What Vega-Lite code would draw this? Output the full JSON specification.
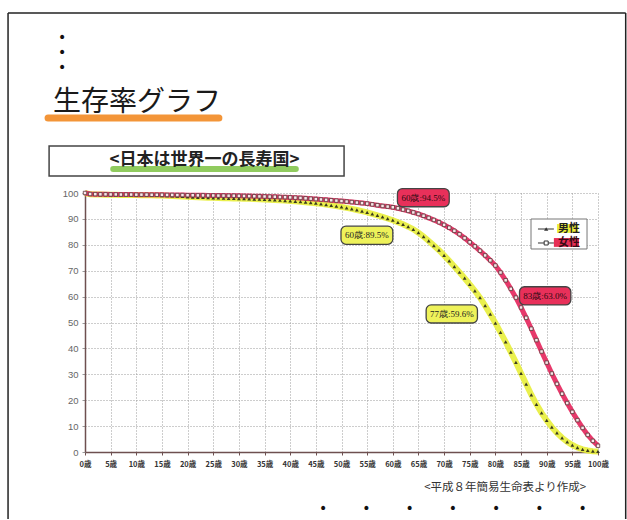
{
"$schema": "https://vega.github.io/schema/vega-lite/v6.json",
"width": 513, "height": 259,
"padding": {"left": 7, "top": 12, "right": 0, "bottom": 0},
"autosize": {"type": "pad"},
"background": "white",
"config": {"view": {"stroke": null}, "font": "Noto Sans CJK JP",
 "axisX": {"labelExpr": "datum.value + '歳'", "grid": true, "gridDash": [1,2], "gridColor": "#9a9a9a", "gridWidth": 1,
   "domainColor": "#6e5050", "domainWidth": 1.5, "tickColor": "#6e5050", "tickSize": 3,
   "labelFont": "Noto Sans CJK JP", "labelFontSize": 7.5, "labelFontWeight": "bold", "labelColor": "#333", "labelPadding": 5, "labelFlush": false, "labelOverlap": false},
 "axisY": {"grid": true, "gridDash": [1,2], "gridColor": "#9a9a9a", "gridWidth": 1,
   "domainColor": "#6e5050", "domainWidth": 1.5, "tickColor": "#9a9a9a", "tickSize": 3,
   "labelFont": "Liberation Sans", "labelFontSize": 9.5, "labelColor": "#666", "labelPadding": 4, "labelOverlap": false}},
"datasets": {"survival": [
{"age":0,"男性":100,"女性":100},{"age":1,"男性":99.5,"女性":99.6},{"age":2,"男性":99.45,"女性":99.55},{"age":3,"男性":99.4,"女性":99.5},{"age":4,"男性":99.35,"女性":99.5},
{"age":5,"男性":99.3,"女性":99.45},{"age":6,"男性":99.3,"女性":99.45},{"age":7,"男性":99.25,"女性":99.4},{"age":8,"男性":99.25,"女性":99.4},{"age":9,"男性":99.2,"女性":99.4},
{"age":10,"男性":99.2,"女性":99.35},{"age":11,"男性":99.15,"女性":99.35},{"age":12,"男性":99.15,"女性":99.35},{"age":13,"男性":99.1,"女性":99.3},{"age":14,"男性":99.05,"女性":99.3},
{"age":15,"男性":99.0,"女性":99.3},{"age":16,"男性":98.95,"女性":99.25},{"age":17,"男性":98.85,"女性":99.25},{"age":18,"男性":98.75,"女性":99.2},{"age":19,"男性":98.65,"女性":99.2},
{"age":20,"男性":98.55,"女性":99.15},{"age":21,"男性":98.45,"女性":99.15},{"age":22,"男性":98.35,"女性":99.1},{"age":23,"男性":98.3,"女性":99.1},{"age":24,"男性":98.2,"女性":99.05},
{"age":25,"男性":98.15,"女性":99.05},{"age":26,"男性":98.1,"女性":99.0},{"age":27,"男性":98.0,"女性":99.0},{"age":28,"男性":97.95,"女性":98.95},{"age":29,"男性":97.9,"女性":98.95},
{"age":30,"男性":97.85,"女性":98.9},{"age":31,"男性":97.8,"女性":98.85},{"age":32,"男性":97.75,"女性":98.8},{"age":33,"男性":97.65,"女性":98.75},{"age":34,"男性":97.6,"女性":98.7},
{"age":35,"男性":97.5,"女性":98.65},{"age":36,"男性":97.4,"女性":98.6},{"age":37,"男性":97.3,"女性":98.55},{"age":38,"男性":97.2,"女性":98.45},{"age":39,"男性":97.1,"女性":98.4},
{"age":40,"男性":96.95,"女性":98.3},{"age":41,"男性":96.8,"女性":98.2},{"age":42,"男性":96.65,"女性":98.1},{"age":43,"男性":96.45,"女性":97.95},{"age":44,"男性":96.25,"女性":97.8},
{"age":45,"男性":96.05,"女性":97.65},{"age":46,"男性":95.8,"女性":97.5},{"age":47,"男性":95.55,"女性":97.35},{"age":48,"男性":95.25,"女性":97.2},{"age":49,"男性":94.95,"女性":97.05},
{"age":50,"男性":94.6,"女性":96.9},{"age":51,"男性":94.25,"女性":96.7},{"age":52,"男性":93.85,"女性":96.5},{"age":53,"男性":93.45,"女性":96.3},{"age":54,"男性":93.0,"女性":96.1},
{"age":55,"男性":92.5,"女性":95.9},{"age":56,"男性":91.95,"女性":95.6},{"age":57,"男性":91.4,"女性":95.3},{"age":58,"男性":90.8,"女性":95.0},{"age":59,"男性":90.15,"女性":94.75},
{"age":60,"男性":89.5,"女性":94.5},{"age":61,"男性":88.7,"女性":94.1},{"age":62,"男性":87.9,"女性":93.6},{"age":63,"男性":87.0,"女性":93.1},{"age":64,"男性":86.0,"女性":92.5},
{"age":65,"男性":84.7,"女性":91.9},{"age":66,"男性":83.2,"女性":91.2},{"age":67,"男性":81.5,"女性":90.4},{"age":68,"男性":79.7,"女性":89.6},{"age":69,"男性":77.9,"女性":88.7},
{"age":70,"男性":75.9,"女性":87.7},{"age":71,"男性":73.8,"女性":86.6},{"age":72,"男性":71.6,"女性":85.4},{"age":73,"男性":69.4,"女性":84.1},{"age":74,"男性":67.1,"女性":82.6},
{"age":75,"男性":64.7,"女性":81.0},{"age":76,"男性":62.2,"女性":79.4},{"age":77,"男性":59.6,"女性":77.7},{"age":78,"男性":56.5,"女性":75.9},{"age":79,"男性":53.2,"女性":74.0},
{"age":80,"男性":49.8,"女性":72.0},{"age":81,"男性":46.2,"女性":69.3},{"age":82,"男性":42.5,"女性":66.3},{"age":83,"男性":38.6,"女性":63.0},{"age":84,"男性":34.6,"女性":59.6},
{"age":85,"男性":30.4,"女性":55.8},{"age":86,"男性":26.2,"女性":51.8},{"age":87,"男性":22.1,"女性":47.6},{"age":88,"男性":18.4,"女性":43.2},{"age":89,"男性":15.1,"女性":38.8},
{"age":90,"男性":12.2,"女性":34.5},{"age":91,"男性":9.6,"女性":30.3},{"age":92,"男性":7.4,"女性":26.3},{"age":93,"男性":5.5,"女性":22.5},{"age":94,"男性":3.9,"女性":18.9},
{"age":95,"男性":2.7,"女性":15.5},{"age":96,"男性":1.7,"女性":12.3},{"age":97,"男性":1.0,"女性":9.3},{"age":98,"男性":0.6,"女性":6.6},{"age":99,"男性":0.3,"女性":4.3},
{"age":100,"男性":0.2,"女性":2.4}
]},
"layer": [
{"data": {"name": "survival"},
 "transform": [{"fold": ["男性", "女性"], "as": ["sex", "rate"]}, {"filter": "datum.sex === '男性'"}],
 "mark": {"type": "line", "stroke": "#e8ee3a", "strokeWidth": 6, "opacity": 0.9},
 "encoding": {
  "x": {"field": "age", "type": "quantitative", "title": null, "scale": {"domain": [0,100], "nice": false, "zero": false}, "axis": {"values": [0,5,10,15,20,25,30,35,40,45,50,55,60,65,70,75,80,85,90,95,100]}},
  "y": {"field": "rate", "type": "quantitative", "title": null, "scale": {"domain": [0,100], "nice": false, "zero": false}, "axis": {"values": [0,10,20,30,40,50,60,70,80,90,100]}}}},
{"data": {"values": [{}]},
 "mark": {"type": "rule", "stroke": "#222", "strokeWidth": 1.5},
 "encoding": {"x": {"datum": -15.0, "type": "quantitative", "title": null, "axis": {"values": [0,5,10,15,20,25,30,35,40,45,50,55,60,65,70,75,80,85,90,95,100]}},
  "x2": {"datum": 105.4},
  "y": {"datum": 169.5, "type": "quantitative", "title": null, "axis": {"values": [0,10,20,30,40,50,60,70,80,90,100]}}}},
{"data": {"values": [{}]},
 "mark": {"type": "rule", "stroke": "#222", "strokeWidth": 1.5},
 "encoding": {"x": {"datum": -15.0, "type": "quantitative", "title": null, "axis": {"values": [0,5,10,15,20,25,30,35,40,45,50,55,60,65,70,75,80,85,90,95,100]}},
  "y": {"datum": 169.5, "type": "quantitative", "title": null, "axis": {"values": [0,10,20,30,40,50,60,70,80,90,100]}},
  "y2": {"datum": -25.9}}},
{"data": {"values": [{}]},
 "mark": {"type": "rule", "stroke": "#222", "strokeWidth": 1.5},
 "encoding": {"x": {"datum": 105.4, "type": "quantitative", "title": null, "axis": {"values": [0,5,10,15,20,25,30,35,40,45,50,55,60,65,70,75,80,85,90,95,100]}},
  "y": {"datum": 169.5, "type": "quantitative", "title": null, "axis": {"values": [0,10,20,30,40,50,60,70,80,90,100]}},
  "y2": {"datum": -25.9}}},
{"data": {"values": [{}]},
 "mark": {"type": "text", "font": "DejaVu Sans", "fontSize": 14, "lineBreak": "\n", "lineHeight": 15, "align": "center", "baseline": "middle", "color": "#111"},
 "encoding": {"x": {"datum": -4.48, "type": "quantitative", "title": null, "axis": {"values": [0,5,10,15,20,25,30,35,40,45,50,55,60,65,70,75,80,85,90,95,100]}},
  "y": {"datum": 159.85, "type": "quantitative", "title": null, "axis": {"values": [0,10,20,30,40,50,60,70,80,90,100]}},
  "text": {"value": "•\n•\n•"}}},
{"data": {"values": [{}]},
 "mark": {"type": "rule", "stroke": "#f28a22", "strokeWidth": 7, "strokeCap": "round", "opacity": 0.9},
 "encoding": {"x": {"datum": -7.2, "type": "quantitative", "title": null, "axis": {"values": [0,5,10,15,20,25,30,35,40,45,50,55,60,65,70,75,80,85,90,95,100]}},
  "x2": {"datum": 26.1},
  "y": {"datum": 129.0, "type": "quantitative", "title": null, "axis": {"values": [0,10,20,30,40,50,60,70,80,90,100]}}}},
{"data": {"values": [{}]},
 "mark": {"type": "text", "font": "Noto Sans CJK JP", "fontSize": 28, "align": "left", "baseline": "alphabetic", "color": "#1a1a1a"},
 "encoding": {"x": {"datum": -6.24, "type": "quantitative", "title": null, "axis": {"values": [0,5,10,15,20,25,30,35,40,45,50,55,60,65,70,75,80,85,90,95,100]}},
  "y": {"datum": 131.7, "type": "quantitative", "title": null, "axis": {"values": [0,10,20,30,40,50,60,70,80,90,100]}},
  "text": {"value": "生存率グラフ"}}},
{"data": {"values": [{}]},
 "mark": {"type": "rect", "fill": "white", "stroke": "#444", "strokeWidth": 1.5},
 "encoding": {"x": {"datum": -7.0, "type": "quantitative", "title": null, "axis": {"values": [0,5,10,15,20,25,30,35,40,45,50,55,60,65,70,75,80,85,90,95,100]}},
  "x2": {"datum": 50.5},
  "y": {"datum": 118.1, "type": "quantitative", "title": null, "axis": {"values": [0,10,20,30,40,50,60,70,80,90,100]}},
  "y2": {"datum": 106.6}}},
{"data": {"values": [{}]},
 "mark": {"type": "rule", "stroke": "#7cc242", "strokeWidth": 6, "strokeCap": "round", "opacity": 0.85},
 "encoding": {"x": {"datum": 5.5, "type": "quantitative", "title": null, "axis": {"values": [0,5,10,15,20,25,30,35,40,45,50,55,60,65,70,75,80,85,90,95,100]}},
  "x2": {"datum": 41.1},
  "y": {"datum": 109.3, "type": "quantitative", "title": null, "axis": {"values": [0,10,20,30,40,50,60,70,80,90,100]}}}},
{"data": {"values": [{}]},
 "mark": {"type": "text", "font": "Noto Sans CJK JP", "fontSize": 17, "fontWeight": "bold", "align": "center", "baseline": "middle", "color": "#222"},
 "encoding": {"x": {"datum": 23.3, "type": "quantitative", "title": null, "axis": {"values": [0,5,10,15,20,25,30,35,40,45,50,55,60,65,70,75,80,85,90,95,100]}},
  "y": {"datum": 112.7, "type": "quantitative", "title": null, "axis": {"values": [0,10,20,30,40,50,60,70,80,90,100]}},
  "text": {"value": "<日本は世界一の長寿国>"}}},
{"data": {"name": "survival"},
 "transform": [{"fold": ["男性", "女性"], "as": ["sex", "rate"]}, {"filter": "datum.sex === '女性'"}],
 "mark": {"type": "line", "stroke": "#e62e63", "strokeWidth": 5, "opacity": 0.95},
 "encoding": {
  "x": {"field": "age", "type": "quantitative", "title": null, "axis": {"values": [0,5,10,15,20,25,30,35,40,45,50,55,60,65,70,75,80,85,90,95,100]}},
  "y": {"field": "rate", "type": "quantitative", "title": null, "axis": {"values": [0,10,20,30,40,50,60,70,80,90,100]}}}},
{"data": {"name": "survival"},
 "transform": [{"fold": ["男性", "女性"], "as": ["sex", "rate"]}, {"filter": "datum.sex === '男性'"}],
 "mark": {"type": "point", "shape": "triangle-up", "filled": true, "fill": "#3a3a1e", "size": 14, "strokeWidth": 0, "opacity": 1},
 "encoding": {
  "x": {"field": "age", "type": "quantitative", "title": null, "axis": {"values": [0,5,10,15,20,25,30,35,40,45,50,55,60,65,70,75,80,85,90,95,100]}},
  "y": {"field": "rate", "type": "quantitative", "title": null, "axis": {"values": [0,10,20,30,40,50,60,70,80,90,100]}}}},
{"data": {"name": "survival"},
 "transform": [{"fold": ["男性", "女性"], "as": ["sex", "rate"]}, {"filter": "datum.sex === '女性'"}],
 "mark": {"type": "point", "shape": "square", "filled": true, "fill": "#fbe4ea", "stroke": "#5a3a3a", "strokeWidth": 0.8, "size": 12, "opacity": 1},
 "encoding": {
  "x": {"field": "age", "type": "quantitative", "title": null, "axis": {"values": [0,5,10,15,20,25,30,35,40,45,50,55,60,65,70,75,80,85,90,95,100]}},
  "y": {"field": "rate", "type": "quantitative", "title": null, "axis": {"values": [0,10,20,30,40,50,60,70,80,90,100]}}}},
{"data": {"values": [{"label": "60歳:94.5%"}]},
 "layer": [
  {"mark": {"type": "rect", "fill": "#e8305a", "stroke": "#444", "strokeWidth": 1.3, "cornerRadius": 5},
   "encoding": {"x": {"datum": 60.9, "type": "quantitative", "title": null, "axis": {"values": [0,5,10,15,20,25,30,35,40,45,50,55,60,65,70,75,80,85,90,95,100]}},
    "x2": {"datum": 71.0},
    "y": {"datum": 101.7, "type": "quantitative", "title": null, "axis": {"values": [0,10,20,30,40,50,60,70,80,90,100]}},
    "y2": {"datum": 94.7}}},
  {"mark": {"type": "text", "font": "Liberation Serif", "fontSize": 9, "align": "center", "baseline": "middle", "color": "#2a0a10"},
   "encoding": {"x": {"datum": 65.95, "type": "quantitative", "title": null, "axis": {"values": [0,5,10,15,20,25,30,35,40,45,50,55,60,65,70,75,80,85,90,95,100]}},
    "y": {"datum": 98.2, "type": "quantitative", "title": null, "axis": {"values": [0,10,20,30,40,50,60,70,80,90,100]}},
    "text": {"field": "label"}}}]},
{"data": {"values": [{"label": "60歳:89.5%"}]},
 "layer": [
  {"mark": {"type": "rect", "fill": "#eef25a", "stroke": "#444", "strokeWidth": 1.3, "cornerRadius": 5},
   "encoding": {"x": {"datum": 49.9, "type": "quantitative", "title": null, "axis": {"values": [0,5,10,15,20,25,30,35,40,45,50,55,60,65,70,75,80,85,90,95,100]}},
    "x2": {"datum": 60.0},
    "y": {"datum": 87.2, "type": "quantitative", "title": null, "axis": {"values": [0,10,20,30,40,50,60,70,80,90,100]}},
    "y2": {"datum": 80.2}}},
  {"mark": {"type": "text", "font": "Liberation Serif", "fontSize": 9, "align": "center", "baseline": "middle", "color": "#222"},
   "encoding": {"x": {"datum": 54.95, "type": "quantitative", "title": null, "axis": {"values": [0,5,10,15,20,25,30,35,40,45,50,55,60,65,70,75,80,85,90,95,100]}},
    "y": {"datum": 83.7, "type": "quantitative", "title": null, "axis": {"values": [0,10,20,30,40,50,60,70,80,90,100]}},
    "text": {"field": "label"}}}]},
{"data": {"values": [{"label": "83歳:63.0%"}]},
 "layer": [
  {"mark": {"type": "rect", "fill": "#e8305a", "stroke": "#444", "strokeWidth": 1.3, "cornerRadius": 5},
   "encoding": {"x": {"datum": 84.7, "type": "quantitative", "title": null, "axis": {"values": [0,5,10,15,20,25,30,35,40,45,50,55,60,65,70,75,80,85,90,95,100]}},
    "x2": {"datum": 94.7},
    "y": {"datum": 63.8, "type": "quantitative", "title": null, "axis": {"values": [0,10,20,30,40,50,60,70,80,90,100]}},
    "y2": {"datum": 56.8}}},
  {"mark": {"type": "text", "font": "Liberation Serif", "fontSize": 9, "align": "center", "baseline": "middle", "color": "#2a0a10"},
   "encoding": {"x": {"datum": 89.7, "type": "quantitative", "title": null, "axis": {"values": [0,5,10,15,20,25,30,35,40,45,50,55,60,65,70,75,80,85,90,95,100]}},
    "y": {"datum": 60.3, "type": "quantitative", "title": null, "axis": {"values": [0,10,20,30,40,50,60,70,80,90,100]}},
    "text": {"field": "label"}}}]},
{"data": {"values": [{"label": "77歳:59.6%"}]},
 "layer": [
  {"mark": {"type": "rect", "fill": "#eef25a", "stroke": "#444", "strokeWidth": 1.3, "cornerRadius": 5},
   "encoding": {"x": {"datum": 66.5, "type": "quantitative", "title": null, "axis": {"values": [0,5,10,15,20,25,30,35,40,45,50,55,60,65,70,75,80,85,90,95,100]}},
    "x2": {"datum": 76.5},
    "y": {"datum": 56.8, "type": "quantitative", "title": null, "axis": {"values": [0,10,20,30,40,50,60,70,80,90,100]}},
    "y2": {"datum": 49.8}}},
  {"mark": {"type": "text", "font": "Liberation Serif", "fontSize": 9, "align": "center", "baseline": "middle", "color": "#222"},
   "encoding": {"x": {"datum": 71.5, "type": "quantitative", "title": null, "axis": {"values": [0,5,10,15,20,25,30,35,40,45,50,55,60,65,70,75,80,85,90,95,100]}},
    "y": {"datum": 53.3, "type": "quantitative", "title": null, "axis": {"values": [0,10,20,30,40,50,60,70,80,90,100]}},
    "text": {"field": "label"}}}]},
{"data": {"values": [{}]},
 "mark": {"type": "rect", "fill": "white", "stroke": "#777", "strokeWidth": 1},
 "encoding": {"x": {"datum": 86.94, "type": "quantitative", "title": null, "axis": {"values": [0,5,10,15,20,25,30,35,40,45,50,55,60,65,70,75,80,85,90,95,100]}},
  "x2": {"datum": 97.86},
  "y": {"datum": 89.96, "type": "quantitative", "title": null, "axis": {"values": [0,10,20,30,40,50,60,70,80,90,100]}},
  "y2": {"datum": 78.38}}},
{"data": {"values": [{}]},
 "mark": {"type": "rect", "fill": "#eef03a"},
 "encoding": {"x": {"datum": 92.0, "type": "quantitative", "title": null, "axis": {"values": [0,5,10,15,20,25,30,35,40,45,50,55,60,65,70,75,80,85,90,95,100]}},
  "x2": {"datum": 96.1},
  "y": {"datum": 88.0, "type": "quantitative", "title": null, "axis": {"values": [0,10,20,30,40,50,60,70,80,90,100]}},
  "y2": {"datum": 84.6}}},
{"data": {"values": [{}]},
 "mark": {"type": "rect", "fill": "#e62e55"},
 "encoding": {"x": {"datum": 91.4, "type": "quantitative", "title": null, "axis": {"values": [0,5,10,15,20,25,30,35,40,45,50,55,60,65,70,75,80,85,90,95,100]}},
  "x2": {"datum": 96.3},
  "y": {"datum": 82.6, "type": "quantitative", "title": null, "axis": {"values": [0,10,20,30,40,50,60,70,80,90,100]}},
  "y2": {"datum": 79.2}}},
{"data": {"values": [{}]},
 "mark": {"type": "rule", "stroke": "#333", "strokeWidth": 1},
 "encoding": {"x": {"datum": 88.3, "type": "quantitative", "title": null, "axis": {"values": [0,5,10,15,20,25,30,35,40,45,50,55,60,65,70,75,80,85,90,95,100]}},
  "x2": {"datum": 91.4},
  "y": {"datum": 86.1, "type": "quantitative", "title": null, "axis": {"values": [0,10,20,30,40,50,60,70,80,90,100]}}}},
{"data": {"values": [{}]},
 "mark": {"type": "rule", "stroke": "#333", "strokeWidth": 1},
 "encoding": {"x": {"datum": 88.3, "type": "quantitative", "title": null, "axis": {"values": [0,5,10,15,20,25,30,35,40,45,50,55,60,65,70,75,80,85,90,95,100]}},
  "x2": {"datum": 91.4},
  "y": {"datum": 80.7, "type": "quantitative", "title": null, "axis": {"values": [0,10,20,30,40,50,60,70,80,90,100]}}}},
{"data": {"values": [{}]},
 "mark": {"type": "point", "shape": "triangle-up", "filled": true, "fill": "#333", "size": 18, "strokeWidth": 0, "opacity": 1},
 "encoding": {"x": {"datum": 89.9, "type": "quantitative", "title": null, "axis": {"values": [0,5,10,15,20,25,30,35,40,45,50,55,60,65,70,75,80,85,90,95,100]}},
  "y": {"datum": 86.1, "type": "quantitative", "title": null, "axis": {"values": [0,10,20,30,40,50,60,70,80,90,100]}}}},
{"data": {"values": [{}]},
 "mark": {"type": "point", "shape": "square", "filled": true, "fill": "white", "stroke": "#333", "strokeWidth": 1, "size": 16, "opacity": 1},
 "encoding": {"x": {"datum": 89.9, "type": "quantitative", "title": null, "axis": {"values": [0,5,10,15,20,25,30,35,40,45,50,55,60,65,70,75,80,85,90,95,100]}},
  "y": {"datum": 80.7, "type": "quantitative", "title": null, "axis": {"values": [0,10,20,30,40,50,60,70,80,90,100]}}}},
{"data": {"values": [{"sex": "男性"}]},
 "mark": {"type": "text", "font": "Noto Sans CJK JP", "fontSize": 11, "fontWeight": "bold", "align": "left", "baseline": "middle", "color": "#222"},
 "encoding": {"x": {"datum": 92.2, "type": "quantitative", "title": null, "axis": {"values": [0,5,10,15,20,25,30,35,40,45,50,55,60,65,70,75,80,85,90,95,100]}},
  "y": {"datum": 86.1, "type": "quantitative", "title": null, "axis": {"values": [0,10,20,30,40,50,60,70,80,90,100]}},
  "text": {"field": "sex"}}},
{"data": {"values": [{"sex": "女性"}]},
 "mark": {"type": "text", "font": "Noto Sans CJK JP", "fontSize": 11, "fontWeight": "bold", "align": "left", "baseline": "middle", "color": "#3a0a14"},
 "encoding": {"x": {"datum": 92.2, "type": "quantitative", "title": null, "axis": {"values": [0,5,10,15,20,25,30,35,40,45,50,55,60,65,70,75,80,85,90,95,100]}},
  "y": {"datum": 80.7, "type": "quantitative", "title": null, "axis": {"values": [0,10,20,30,40,50,60,70,80,90,100]}},
  "text": {"field": "sex"}}},
{"data": {"values": [{}]},
 "mark": {"type": "text", "font": "Noto Sans CJK JP", "fontSize": 11.5, "align": "center", "baseline": "middle", "color": "#333"},
 "encoding": {"x": {"datum": 81.9, "type": "quantitative", "title": null, "axis": {"values": [0,5,10,15,20,25,30,35,40,45,50,55,60,65,70,75,80,85,90,95,100]}},
  "y": {"datum": -13.9, "type": "quantitative", "title": null, "axis": {"values": [0,10,20,30,40,50,60,70,80,90,100]}},
  "text": {"value": "<平成８年簡易生命表より作成>"}}},
{"data": {"values": [{}]},
 "mark": {"type": "text", "font": "DejaVu Sans", "fontSize": 14, "align": "center", "baseline": "middle", "color": "#111"},
 "encoding": {"x": {"datum": 71.7, "type": "quantitative", "title": null, "axis": {"values": [0,5,10,15,20,25,30,35,40,45,50,55,60,65,70,75,80,85,90,95,100]}},
  "y": {"datum": -22.0, "type": "quantitative", "title": null, "axis": {"values": [0,10,20,30,40,50,60,70,80,90,100]}},
  "text": {"value": "•\u2003\u2003\u2002•\u2003\u2003\u2002•\u2003\u2003\u2002•\u2003\u2003\u2002•\u2003\u2003\u2002•\u2003\u2003\u2002•"}}}
]
}
